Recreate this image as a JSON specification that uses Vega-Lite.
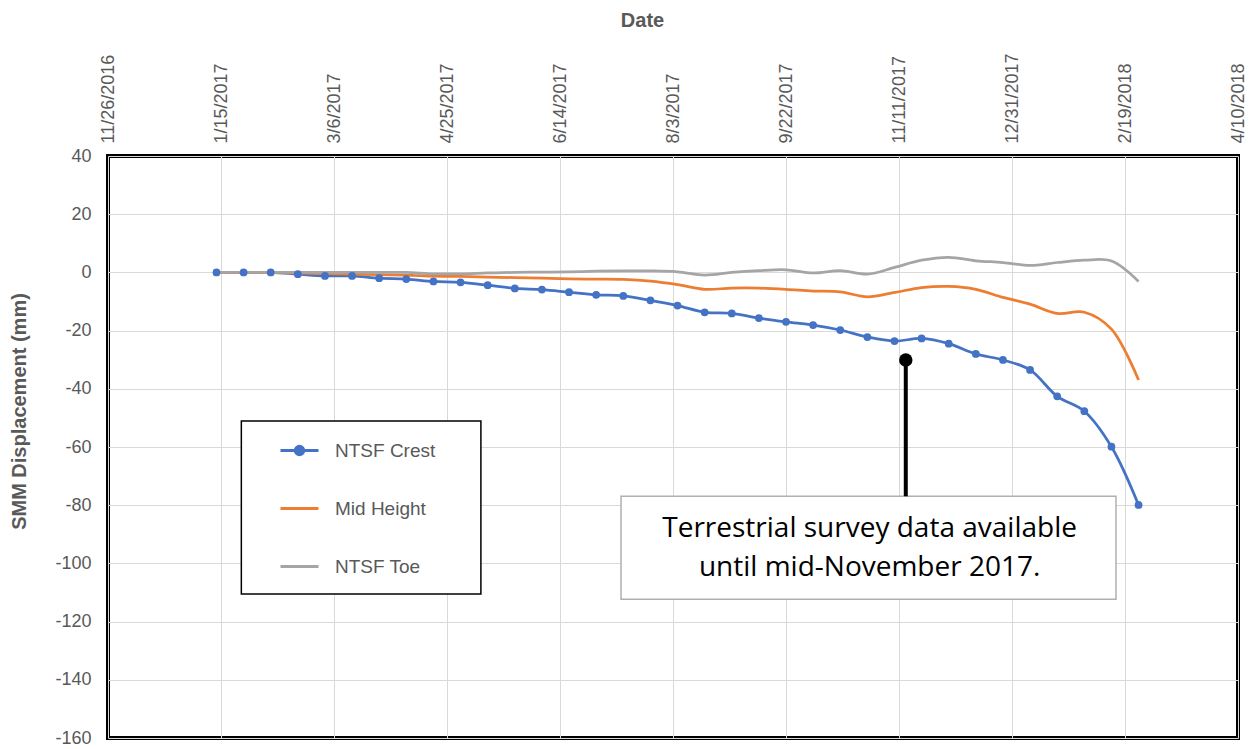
{
  "$schema": "https://vega.github.io/schema/vega-lite/v6.json",
  "width": 1130,
  "height": 582,
  "autosize": {"type": "none"},
  "padding": {"left": 108, "top": 156, "right": 14, "bottom": 11},
  "background": "white",
  "config": {
    "font": "Liberation Sans",
    "view": {"stroke": "black", "strokeWidth": 4},
    "axis": {
      "gridColor": "#d9d9d9",
      "gridWidth": 1,
      "domain": false,
      "ticks": false,
      "labelColor": "#595959",
      "labelFontSize": 18,
      "titleColor": "#595959",
      "titleFontWeight": "bold",
      "titleFontSize": 20
    }
  },
  "datasets": {
    "series": [
      {"date": "2017-01-13", "NTSF Crest": 0, "Mid Height": 0, "NTSF Toe": 0},
      {"date": "2017-01-25", "NTSF Crest": 0, "Mid Height": 0, "NTSF Toe": 0},
      {"date": "2017-02-06", "NTSF Crest": 0, "Mid Height": 0, "NTSF Toe": 0},
      {"date": "2017-02-18", "NTSF Crest": -0.6, "Mid Height": -0.2, "NTSF Toe": 0},
      {"date": "2017-03-02", "NTSF Crest": -1.2, "Mid Height": -0.4, "NTSF Toe": 0},
      {"date": "2017-03-14", "NTSF Crest": -1.2, "Mid Height": -0.6, "NTSF Toe": 0},
      {"date": "2017-03-26", "NTSF Crest": -2.0, "Mid Height": -0.8, "NTSF Toe": 0},
      {"date": "2017-04-07", "NTSF Crest": -2.3, "Mid Height": -0.9, "NTSF Toe": 0},
      {"date": "2017-04-19", "NTSF Crest": -3.1, "Mid Height": -1.3, "NTSF Toe": -0.5},
      {"date": "2017-05-01", "NTSF Crest": -3.4, "Mid Height": -1.4, "NTSF Toe": -0.5},
      {"date": "2017-05-13", "NTSF Crest": -4.4, "Mid Height": -1.6, "NTSF Toe": -0.2},
      {"date": "2017-05-25", "NTSF Crest": -5.5, "Mid Height": -1.8, "NTSF Toe": 0},
      {"date": "2017-06-06", "NTSF Crest": -5.9, "Mid Height": -2.0, "NTSF Toe": 0.1},
      {"date": "2017-06-18", "NTSF Crest": -6.8, "Mid Height": -2.2, "NTSF Toe": 0.2},
      {"date": "2017-06-30", "NTSF Crest": -7.7, "Mid Height": -2.3, "NTSF Toe": 0.4},
      {"date": "2017-07-12", "NTSF Crest": -8.1, "Mid Height": -2.4, "NTSF Toe": 0.5},
      {"date": "2017-07-24", "NTSF Crest": -9.6, "Mid Height": -3.0, "NTSF Toe": 0.5},
      {"date": "2017-08-05", "NTSF Crest": -11.4, "Mid Height": -4.2, "NTSF Toe": 0.2},
      {"date": "2017-08-17", "NTSF Crest": -13.7, "Mid Height": -5.8, "NTSF Toe": -0.9},
      {"date": "2017-08-29", "NTSF Crest": -14.1, "Mid Height": -5.4, "NTSF Toe": 0},
      {"date": "2017-09-10", "NTSF Crest": -15.7, "Mid Height": -5.4, "NTSF Toe": 0.6},
      {"date": "2017-09-22", "NTSF Crest": -17.0, "Mid Height": -5.8, "NTSF Toe": 0.9},
      {"date": "2017-10-04", "NTSF Crest": -18.1, "Mid Height": -6.4, "NTSF Toe": -0.2},
      {"date": "2017-10-16", "NTSF Crest": -19.8, "Mid Height": -6.7, "NTSF Toe": 0.6},
      {"date": "2017-10-28", "NTSF Crest": -22.2, "Mid Height": -8.4, "NTSF Toe": -0.6},
      {"date": "2017-11-09", "NTSF Crest": -23.6, "Mid Height": -6.9, "NTSF Toe": 1.7},
      {"date": "2017-11-21", "NTSF Crest": -22.7, "Mid Height": -5.2, "NTSF Toe": 4.2},
      {"date": "2017-12-03", "NTSF Crest": -24.5, "Mid Height": -4.8, "NTSF Toe": 5.2},
      {"date": "2017-12-15", "NTSF Crest": -28.0, "Mid Height": -5.8, "NTSF Toe": 4.0},
      {"date": "2017-12-27", "NTSF Crest": -30.1, "Mid Height": -8.6, "NTSF Toe": 3.4},
      {"date": "2018-01-08", "NTSF Crest": -33.5, "Mid Height": -10.9, "NTSF Toe": 2.4},
      {"date": "2018-01-20", "NTSF Crest": -42.6, "Mid Height": -14.1, "NTSF Toe": 3.4},
      {"date": "2018-02-01", "NTSF Crest": -47.7, "Mid Height": -13.7, "NTSF Toe": 4.2},
      {"date": "2018-02-13", "NTSF Crest": -59.9, "Mid Height": -19.5, "NTSF Toe": 3.9},
      {"date": "2018-02-25", "NTSF Crest": -79.9, "Mid Height": -37.0, "NTSF Toe": -3.1}
    ],
    "legendBox": [{"start": "2017-01-24", "end": "2017-05-10", "top": -51.1, "bottom": -110.5}],
    "noteBox": [{"start": "2017-07-11", "end": "2018-02-15", "top": -76.9, "bottom": -112.3}],
    "pointer": [{"date": "2017-11-14", "top": -30.1, "bottom": -76.9}],
    "noteText": [
      {"date": "2017-10-29", "value": -88.2, "text": "Terrestrial survey data available"},
      {"date": "2017-10-29", "value": -101.6, "text": "until mid-November 2017."}
    ]
  },
  "layer": [
    {
      "data": {"name": "legendBox"},
      "mark": {"type": "rect", "fill": "white", "stroke": "black", "strokeWidth": 1.5},
      "encoding": {
        "x": {"field": "start", "type": "temporal"},
        "x2": {"field": "end"},
        "y": {"field": "top", "type": "quantitative"},
        "y2": {"field": "bottom"}
      }
    },
    {
      "data": {"name": "noteBox"},
      "mark": {"type": "rect", "fill": "white", "stroke": "#b0b0b0", "strokeWidth": 1.5},
      "encoding": {
        "x": {"field": "start", "type": "temporal"},
        "x2": {"field": "end"},
        "y": {"field": "top", "type": "quantitative"},
        "y2": {"field": "bottom"}
      }
    },
    {
      "data": {"name": "series"},
      "transform": [{"fold": ["NTSF Crest", "Mid Height", "NTSF Toe"], "as": ["series", "value"]}],
      "mark": {"type": "line", "interpolate": "catmull-rom", "strokeWidth": 2.75},
      "encoding": {
        "x": {
          "field": "date",
          "type": "temporal",
          "scale": {
            "type": "utc",
            "domain": [
              {"year": 2016, "month": 11, "date": 26, "utc": true},
              {"year": 2018, "month": 4, "date": 10, "utc": true}
            ],
            "nice": false
          },
          "axis": {
            "orient": "top",
            "title": "Date",
            "titleX": 534,
            "titleY": -130,
            "titleAlign": "center",
            "titleBaseline": "alphabetic",
            "format": "%-m/%-d/%Y",
            "labelAngle": -90,
            "labelAlign": "left",
            "labelBaseline": "middle",
            "labelPadding": 13,
            "labelFlush": false,
            "labelOverlap": false,
            "labelBound": false,
            "values": [
              {"year": 2016, "month": 11, "date": 26, "utc": true},
              {"year": 2017, "month": 1, "date": 15, "utc": true},
              {"year": 2017, "month": 3, "date": 6, "utc": true},
              {"year": 2017, "month": 4, "date": 25, "utc": true},
              {"year": 2017, "month": 6, "date": 14, "utc": true},
              {"year": 2017, "month": 8, "date": 3, "utc": true},
              {"year": 2017, "month": 9, "date": 22, "utc": true},
              {"year": 2017, "month": 11, "date": 11, "utc": true},
              {"year": 2017, "month": 12, "date": 31, "utc": true},
              {"year": 2018, "month": 2, "date": 19, "utc": true},
              {"year": 2018, "month": 4, "date": 10, "utc": true}
            ]
          }
        },
        "y": {
          "field": "value",
          "type": "quantitative",
          "scale": {"domain": [-160, 40], "nice": false, "zero": false},
          "axis": {
            "title": "SMM Displacement (mm)",
            "values": [-160, -140, -120, -100, -80, -60, -40, -20, 0, 20, 40],
            "labelExpr": "'' + datum.value",
            "labelPadding": 17,
            "titleAngle": -90,
            "titleX": -83,
            "titleY": 255,
            "titleAlign": "center",
            "titleBaseline": "alphabetic"
          }
        },
        "color": {
          "field": "series",
          "type": "nominal",
          "scale": {
            "domain": ["NTSF Crest", "Mid Height", "NTSF Toe"],
            "range": ["#4472c4", "#ed7d31", "#a5a5a5"]
          },
          "legend": {
            "orient": "none",
            "legendX": 171,
            "legendY": 274,
            "title": null,
            "padding": 0,
            "symbolType": "stroke",
            "symbolSize": 1444,
            "symbolStrokeWidth": 3,
            "labelFont": "Liberation Sans",
            "labelFontSize": 19,
            "labelColor": "#595959",
            "labelOffset": 15,
            "rowPadding": 27,
            "encode": {
              "symbols": {
                "update": {
                  "shape": {"signal": "datum.label === 'NTSF Crest' ? 'M-1,0H1M-0.22,0A0.22,0.22,0,1,0,0.22,0A0.22,0.22,0,1,0,-0.22,0Z' : 'stroke'"},
                  "fill": {"signal": "scale('color', datum.value)"}
                }
              }
            }
          }
        }
      }
    },
    {
      "data": {"name": "series"},
      "mark": {"type": "point", "filled": true, "size": 60, "opacity": 1, "color": "#4472c4"},
      "encoding": {
        "x": {"field": "date", "type": "temporal"},
        "y": {"field": "NTSF Crest", "type": "quantitative"}
      }
    },
    {
      "data": {"name": "pointer"},
      "mark": {"type": "rule", "color": "black", "strokeWidth": 4},
      "encoding": {
        "x": {"field": "date", "type": "temporal"},
        "y": {"field": "top", "type": "quantitative"},
        "y2": {"field": "bottom"}
      }
    },
    {
      "data": {"name": "pointer"},
      "mark": {"type": "point", "filled": true, "size": 180, "opacity": 1, "color": "black"},
      "encoding": {
        "x": {"field": "date", "type": "temporal"},
        "y": {"field": "top", "type": "quantitative"}
      }
    },
    {
      "data": {"name": "noteText"},
      "mark": {"type": "text", "font": "Open Sans", "fontSize": 28, "color": "black", "align": "center", "baseline": "middle"},
      "encoding": {
        "x": {"field": "date", "type": "temporal"},
        "y": {"field": "value", "type": "quantitative"},
        "text": {"field": "text"}
      }
    }
  ]
}
